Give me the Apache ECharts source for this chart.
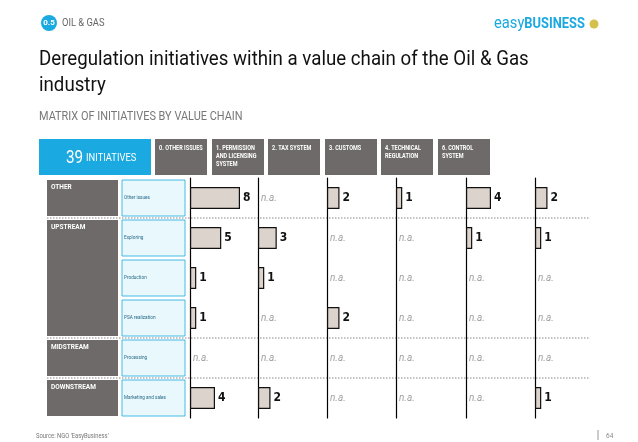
<!DOCTYPE html>
<html><head><meta charset="utf-8">
<script src="https://cdn.jsdelivr.net/npm/echarts@6/dist/echarts.min.js"></script>
<style>html,body{margin:0;padding:0;background:#fff}#c{width:638px;height:442px}</style>
</head><body><div id="c"></div>
<script>
const columns = ['0. OTHER ISSUES','1. PERMISSION\nAND LICENSING\nSYSTEM','2. TAX SYSTEM','3. CUSTOMS','4. TECHNICAL\nREGULATION','6. CONTROL\nSYSTEM'];
const rows = ['Other issues','Exploring','Production','PSA realization','Processing','Marketing and sales'];
const groups = ['OTHER','UPSTREAM','MIDSTREAM','DOWNSTREAM'];
const groupSizes = [1,3,1,1];
// values per column (null = n.a.)
const col0 = [8,5,1,1,null,4];
const col1 = [null,3,1,null,null,2];
const col2 = [2,null,null,2,null,null];
const col3 = [1,null,null,null,null,null];
const col4 = [4,1,null,null,null,null];
const col5 = [2,1,null,null,null,1];
const total = 39;
const values = [col0,col1,col2,col3,col4,col5];

const font = "'Roboto',sans-serif";
const colX = [190,258,327,396,466,535];
const hdrX = [155,212,268,325,381,438];
const grids=[],xAxes=[],yAxes=[],series=[];
values.forEach((v,i)=>{
  grids.push({left:colX[i],top:178,width:62.5,height:240});
  xAxes.push({gridIndex:i,type:'value',min:0,max:10,show:false});
  yAxes.push({gridIndex:i,type:'category',data:rows,inverse:true,axisLine:{lineStyle:{color:'#000',width:1.2}},axisTick:{show:false},axisLabel:{show:false}});
  series.push({type:'bar',xAxisIndex:i,yAxisIndex:i,barWidth:22,data:v.map(x=>x==null?'-':x),
    itemStyle:{color:'#dcd3cd',borderColor:'#111',borderWidth:1.2},
    label:{show:true,position:'right',distance:3,color:'#111',fontWeight:'bold',fontSize:12,fontFamily:"'DejaVu Sans Condensed',sans-serif"}});
  series.push({type:'scatter',xAxisIndex:i,yAxisIndex:i,symbolSize:0,silent:true,
    data:v.map((x,j)=>x==null?[0,rows[j]]:null).filter(d=>d),
    label:{show:true,position:'right',distance:3,formatter:'n.a.',color:'#888',fontStyle:'italic',fontSize:10,fontFamily:font}});
});
const g=[];
const sx=(o,s)=>Object.assign(o,{scaleX:s,originX:0,originY:0});
g.push({type:'circle',shape:{cx:49,cy:23,r:8},style:{fill:'#1aa9e0'}});
g.push({type:'text',x:49,y:23,style:{text:'0.5',fill:'#fff',fontSize:8,fontWeight:'bold',align:'center',verticalAlign:'middle',fontFamily:font}});
g.push(sx({type:'text',x:62,y:23,style:{text:'OIL & GAS',fill:'#666',fontSize:11,verticalAlign:'middle',fontFamily:font}},0.85));
g.push(sx({type:'text',x:494,y:24,style:{rich:{a:{fill:'#1aa9e0',fontSize:16,fontFamily:font},b:{fill:'#1aa9e0',fontSize:14,fontWeight:'bold',fontFamily:font}},text:'{a|easy}{b|BUSINESS}',verticalAlign:'middle'}},0.92));
g.push({type:'circle',shape:{cx:594,cy:24,r:4.5},style:{fill:'#d4c04a'}});
g.push(sx({type:'text',x:39,y:47,style:{text:'Deregulation initiatives within a value chain of the Oil & Gas\nindustry',fill:'#111',fontSize:21,lineHeight:26,fontFamily:font}},0.89));
g.push(sx({type:'text',x:39,y:110,style:{text:'MATRIX OF INITIATIVES BY VALUE CHAIN',fill:'#777',fontSize:13,fontFamily:font}},0.84));
g.push({type:'rect',shape:{x:39,y:139,width:112,height:36},style:{fill:'#1aa9e0'}});
g.push(sx({type:'text',x:66,y:158,style:{rich:{n:{fill:'#fff',fontSize:18,fontFamily:font},t:{fill:'#fff',fontSize:11,fontFamily:font}},text:'{n|'+total+'} {t|INITIATIVES}',verticalAlign:'middle'}},0.85));
columns.forEach((c,i)=>{
  g.push({type:'rect',shape:{x:hdrX[i],y:139,width:52,height:36},style:{fill:'#6d6a69'}});
  g.push(sx({type:'text',x:hdrX[i]+4,y:144,style:{text:c,fill:'#fff',fontSize:6.5,lineHeight:8,fontWeight:'bold',fontFamily:font}},0.85));
});
let r=0;
groups.forEach((gr,k)=>{
  const y0=178+r*40+2, h=groupSizes[k]*40-4;
  g.push({type:'rect',shape:{x:47,y:y0,width:71,height:h},style:{fill:'#6d6a69'}});
  g.push({type:'text',x:51,y:y0+4,style:{text:gr,fill:'#fff',fontSize:6.5,fontWeight:'bold',fontFamily:font}});
  r+=groupSizes[k];
  if(k<groups.length-1) g.push({type:'line',shape:{x1:47,y1:178+r*40,x2:590,y2:178+r*40},style:{stroke:'#888',lineDash:[1.5,1.5],lineWidth:1}});
});
rows.forEach((rw,j)=>{
  const y0=178+j*40+2;
  g.push({type:'rect',shape:{x:122,y:y0,width:63,height:36},style:{fill:'#e8f8fd',stroke:'#1aa9e0',lineWidth:0.8}});
  g.push(sx({type:'text',x:124,y:y0+18,style:{text:rw,fill:'#2a6a8a',fontSize:5.5,verticalAlign:'middle',fontFamily:font}},0.85));
});
g.push(sx({type:'text',x:36,y:433,style:{text:"Source: NGO 'EasyBusiness'",fill:'#777',fontSize:6.5,fontFamily:font}},0.9));
g.push({type:'line',shape:{x1:598,y1:430,x2:598,y2:440},style:{stroke:'#999',lineWidth:1}});
g.push({type:'text',x:606,y:433,style:{text:'64',fill:'#888',fontSize:6.5,fontFamily:font}});

const chart=echarts.init(document.getElementById('c'));
chart.setOption({animation:false,grid:grids,xAxis:xAxes,yAxis:yAxes,series:series,graphic:g});
</script></body></html>
